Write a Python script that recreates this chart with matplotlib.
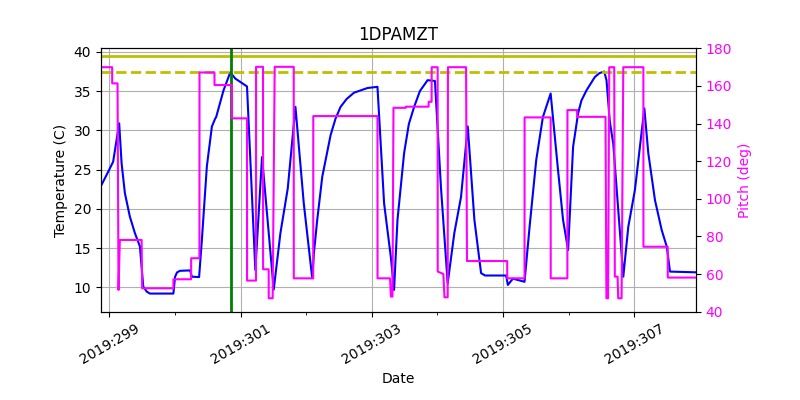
import matplotlib
matplotlib.use('Agg')
import matplotlib.pyplot as plt
from matplotlib.ticker import MultipleLocator, FuncFormatter

# day-of-year 2019 vs. 1DPAMZT model temperature (C)
temp_days = [298.865, 298.957, 299.058, 299.150, 299.187, 299.237, 299.313, 299.390, 299.466,
             299.517, 299.569, 299.619, 299.976, 300.002, 300.032, 300.078, 300.231, 300.257,
             300.368, 300.410, 300.486, 300.563, 300.613, 300.628, 300.740, 300.843, 300.920,
             301.098, 301.225, 301.327, 301.505, 301.607, 301.719, 301.836, 301.963, 302.092,
             302.119, 302.168, 302.245, 302.372, 302.447, 302.524, 302.616, 302.728, 302.933,
             303.086, 303.187, 303.289, 303.339, 303.391, 303.492, 303.564, 303.645, 303.732,
             303.850, 303.962, 304.053, 304.156, 304.257, 304.359, 304.462, 304.563, 304.665,
             304.726, 304.818, 305.047, 305.073, 305.150, 305.327, 305.404, 305.505, 305.607,
             305.725, 305.838, 305.914, 305.991, 306.067, 306.144, 306.194, 306.271, 306.398,
             306.469, 306.541, 306.576, 306.627, 306.679, 306.832, 306.908, 307.009, 307.153,
             307.213, 307.315, 307.417, 307.494, 307.544, 307.968]
temps = [22.8, 24.3, 26.0, 30.9, 25.8, 22.0, 19.0, 16.9, 15.2,
         10.1, 9.45, 9.2, 9.2, 11.35, 11.9, 12.1, 12.15, 11.35,
         11.3, 16.0, 25.4, 30.5, 31.5, 31.7, 35.1, 37.4, 36.6,
         35.6, 12.2, 26.6, 9.7, 16.9, 22.6, 33.0, 20.7, 11.15,
         14.5, 18.6, 24.1, 29.4, 31.5, 33.0, 34.0, 34.8, 35.4,
         35.55, 20.7, 13.9, 9.66, 18.6, 27.1, 30.8, 33.0, 35.0,
         36.4, 36.3, 22.8, 10.5, 16.9, 21.5, 30.5, 18.6, 11.8,
         11.5, 11.5, 11.5, 10.3, 11.1, 10.7, 17.7, 26.2, 31.7,
         34.7, 24.9, 18.6, 14.75, 27.9, 32.2, 33.8, 35.1, 36.8,
         37.3, 37.5, 36.4, 31.1, 28.3, 11.35, 17.7, 22.4, 32.8,
         27.1, 21.1, 17.3, 15.2, 12.0, 11.9]

# pitch (deg), stepwise
pitch_days = [298.865, 298.866, 299.043, 299.044, 299.125, 299.14, 299.16, 299.492, 299.50,
              299.976, 299.977, 300.246, 300.247, 300.373, 300.374, 300.602, 300.603, 300.869,
              300.87, 301.098, 301.099, 301.235, 301.236, 301.342, 301.343, 301.428, 301.429,
              301.489, 301.52, 301.810, 301.811, 302.107, 302.108, 303.086, 303.087, 303.278,
              303.29, 303.315, 303.33, 303.518, 303.519, 303.865, 303.866, 303.911, 303.912,
              304.003, 304.004, 304.090, 304.107, 304.156, 304.16, 304.436, 304.45, 305.063,
              305.064, 305.327, 305.328, 305.725, 305.726, 305.98, 305.981, 306.128, 306.129,
              306.561, 306.575, 306.600, 306.618, 306.694, 306.703, 306.745, 306.755, 306.806,
              306.832, 307.138, 307.139, 307.509, 307.51, 307.968]
pitch = [99.4, 170.0, 170.0, 161.4, 161.4, 51.5, 78.1, 78.1, 52.4,
         52.4, 57.2, 57.2, 68.4, 68.4, 167.2, 167.2, 160.5, 160.5,
         142.8, 142.8, 56.5, 56.5, 170.2, 170.2, 62.5, 62.5, 47.1,
         47.1, 170.2, 170.2, 57.7, 57.7, 144.0, 144.0, 57.7, 57.7,
         48.0, 48.0, 148.4, 148.4, 149.0, 149.0, 151.6, 151.6, 170.0,
         170.0, 61.3, 60.0, 47.6, 47.6, 170.0, 170.0, 66.9, 66.9,
         57.7, 57.7, 143.3, 143.3, 57.7, 57.7, 147.2, 147.2, 143.6,
         143.6, 47.1, 47.1, 170.0, 170.0, 58.6, 58.6, 47.1, 47.1,
         170.0, 170.0, 74.5, 74.5, 58.1, 58.1]

planning_limit = 37.5
yellow_limit = 39.5
now_day = 300.86

fig, ax = plt.subplots(figsize=(8, 4), dpi=100)
fig.subplots_adjust(left=0.126, right=0.87, bottom=0.221, top=0.879)

ax.plot(temp_days, temps, color='b', lw=1.5)
ax.axhline(yellow_limit, color='y', lw=2)
ax.axhline(planning_limit, color='y', lw=2, ls='--')
ax.axvline(now_day, color='g', lw=2)

ax.set_xlim(298.87, 307.94)
ax.set_ylim(6.9, 40.45)
ax.xaxis.set_major_locator(MultipleLocator(2, offset=1))
ax.xaxis.set_minor_locator(MultipleLocator(1))
ax.xaxis.set_major_formatter(FuncFormatter(lambda x, pos: f"2019:{int(round(x)):03d}"))
ax.grid(True)
for lab in ax.get_xticklabels():
    lab.set_rotation(30)
ax.set_xlabel('Date')
ax.set_ylabel('Temperature (C)')
ax.set_title('1DPAMZT')

ax2 = ax.twinx()
ax2.plot(pitch_days, pitch, color='magenta', lw=1.5)
ax2.set_ylim(40, 180)
ax2.set_yticks(range(40, 181, 20))
ax2.set_ylabel('Pitch (deg)', color='magenta')
ax2.tick_params(axis='y', labelcolor='magenta')
ax2.set_xlim(298.87, 307.94)

fig.savefig('out.png', dpi=100)
